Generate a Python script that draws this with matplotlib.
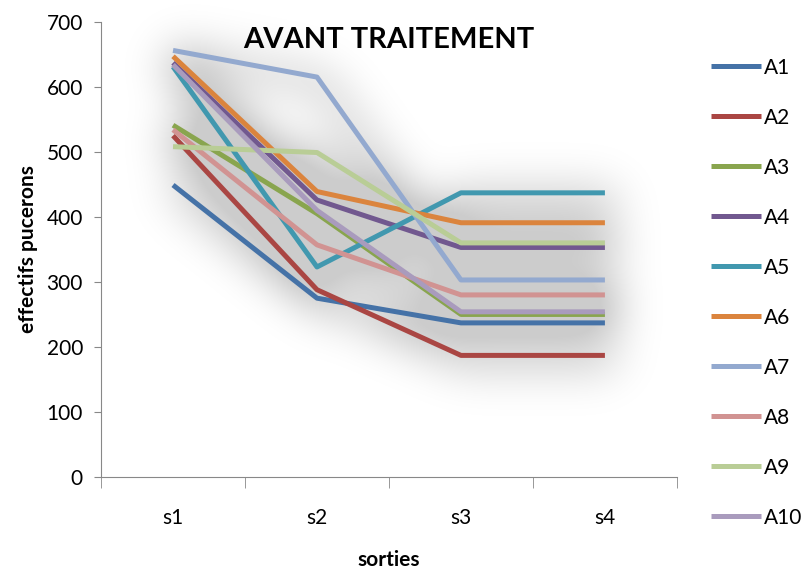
import matplotlib.pyplot as plt
import numpy as np

sorties = ['s1', 's2', 's3', 's4']
A1 = [449, 275, 237, 237]
A2 = [525, 288, 187, 187]
A3 = [541, 405, 250, 250]
A4 = [637, 426, 353, 353]
A5 = [631, 323, 437, 437]
A6 = [647, 439, 391, 391]
A7 = [656, 615, 303, 303]
A8 = [534, 357, 280, 280]
A9 = [508, 499, 360, 360]
A10 = [634, 410, 254, 254]

series = [A1, A2, A3, A4, A5, A6, A7, A8, A9, A10]
labels = ['A1', 'A2', 'A3', 'A4', 'A5', 'A6', 'A7', 'A8', 'A9', 'A10']
colors = ['#4572A7', '#AA4643', '#89A54E', '#71588F', '#4198AF',
          '#DB843D', '#93A9CF', '#D19392', '#B9CD96', '#A99BBD']

plt.rcParams['font.family'] = ['Lato', 'DejaVu Sans']

W, H = 802, 574
rect = [0.126, 0.169, 0.718, 0.793]
x = np.arange(len(sorties))


def setup(ax):
    ax.set_xlim(-0.5, 3.5)
    ax.set_ylim(0, 700)


# soft shadow: draw the lines alone, blur them, lay the result under the chart
sfig = plt.figure(figsize=(W / 100, H / 100), dpi=100)
sax = sfig.add_axes(rect)
setup(sax)
sax.axis('off')
for vals in series:
    sax.plot(np.array(x) + 0.03, np.array(vals) - 8, color='k', lw=10)
sfig.canvas.draw()
mask = 1 - np.asarray(sfig.canvas.buffer_rgba())[:, :, 0] / 255.0
plt.close(sfig)


def blur(a, sigma):
    r = int(3 * sigma)
    k = np.exp(-np.arange(-r, r + 1) ** 2 / (2 * sigma ** 2))
    k /= k.sum()
    a = np.apply_along_axis(lambda v: np.convolve(np.pad(v, r, mode='edge'), k, 'valid'), 0, a)
    a = np.apply_along_axis(lambda v: np.convolve(np.pad(v, r, mode='edge'), k, 'valid'), 1, a)
    return a


shade = blur(mask, 22)
shade = np.clip(shade * 0.35, 0, 0.2)
img = np.zeros((H, W, 4))
img[:, :, 3] = shade

fig = plt.figure(figsize=(W / 100, H / 100), dpi=100)
fig.figimage(img, 0, 0, zorder=-5, origin='upper')

ax = fig.add_axes(rect)
ax.set_zorder(2)
setup(ax)
ax.set_facecolor('none')

for vals, lab, c in zip(series, labels, colors):
    ax.plot(x, vals, color=c, lw=3.6, label=lab, solid_capstyle='butt')

ax.set_yticks(range(0, 701, 100))
ax.set_xticks(x)
ax.set_xticklabels(sorties)
ax.set_xticks(np.arange(-0.5, 4, 1), minor=True)
ax.tick_params(axis='x', which='major', length=0, pad=22, labelsize=15)
ax.tick_params(axis='x', which='minor', length=8, color='#888888')
ax.tick_params(axis='y', length=5, color='#888888', labelsize=15, pad=8)

for side in ['top', 'right']:
    ax.spines[side].set_visible(False)
for side in ['left', 'bottom']:
    ax.spines[side].set_color('#888888')

ax.set_ylabel('effectifs pucerons', fontsize=15, fontweight='bold', labelpad=6)
ax.set_xlabel('sorties', fontsize=15, fontweight='bold', labelpad=16)
ax.set_title('AVANT TRAITEMENT', fontsize=21, fontweight='bold', y=0.925)

ax.legend(loc='center left', bbox_to_anchor=(1.045, 0.405), frameon=False,
          fontsize=15, handlelength=2.4, handletextpad=0.15, labelspacing=1.44,
          borderaxespad=0)

fig.savefig('out.png', dpi=100)
